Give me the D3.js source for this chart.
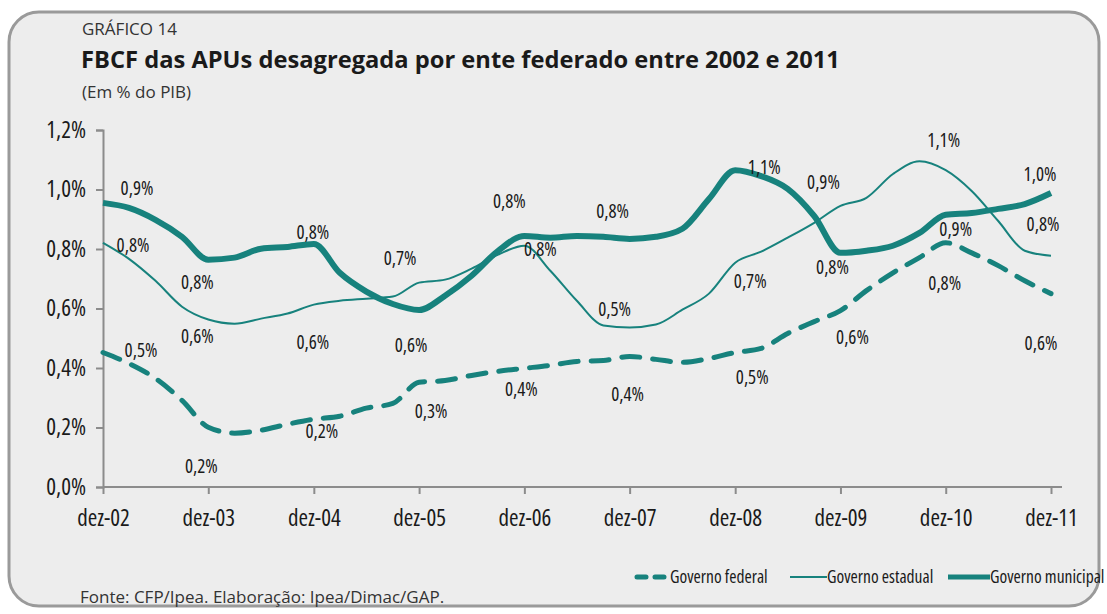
<!DOCTYPE html>
<html>
<head>
<meta charset="utf-8">
<script src="https://cdn.jsdelivr.net/npm/d3@7"></script>
<style>
  body { margin: 0; background: #fff; }
  svg text { font-family: "Open Sans", sans-serif; fill: #1a1a1a; }
  .tick text { font-size: 23px; font-stretch: 87.5%; }
  .val { font-size: 19px; font-stretch: 80%; }
  .leg { font-size: 17.5px; font-stretch: 85%; }
</style>
</head>
<body>
<div id="chart"></div>
<script>
// quarterly values, dez-02 .. dez-11 (% do PIB)
var federal = [0.452, 0.415, 0.365, 0.291, 0.201, 0.181, 0.191, 0.211, 0.228, 0.238, 0.265, 0.281,
    0.352, 0.358, 0.375, 0.389, 0.399, 0.409, 0.422, 0.425, 0.439, 0.429, 0.419, 0.432,
    0.452, 0.466, 0.516, 0.556, 0.593, 0.660, 0.720, 0.771, 0.821, 0.787, 0.744, 0.693, 0.650];
var estadual = [0.821, 0.767, 0.693, 0.606, 0.563, 0.549, 0.566, 0.583, 0.613, 0.626, 0.633, 0.640,
    0.687, 0.697, 0.734, 0.781, 0.811, 0.727, 0.626, 0.543, 0.536, 0.546, 0.596, 0.650,
    0.754, 0.791, 0.838, 0.888, 0.945, 0.972, 1.052, 1.095, 1.065, 0.995, 0.894, 0.794, 0.777];
var municipal = [0.955, 0.938, 0.898, 0.841, 0.764, 0.771, 0.801, 0.807, 0.817, 0.720, 0.657, 0.615,
    0.595, 0.643, 0.710, 0.794, 0.844, 0.838, 0.844, 0.841, 0.834, 0.841, 0.868, 0.968,
    1.065, 1.045, 1.002, 0.911, 0.787, 0.794, 0.811, 0.854, 0.915, 0.921, 0.935, 0.951, 0.988];

var years = [2002, 2003, 2004, 2005, 2006, 2007, 2008, 2009, 2010, 2011];
var yTicks = [0, 0.2, 0.4, 0.6, 0.8, 1.0, 1.2];
var seriesNames = ["Governo federal", "Governo estadual", "Governo municipal"];

// value labels shown each December
var federalLabels = ["0,5%", "0,2%", "0,2%", "0,3%", "0,4%", "0,4%", "0,5%", "0,6%", "0,8%", "0,6%"];
var estadualLabels = ["0,8%", "0,6%", "0,6%", "0,7%", "0,8%", "0,5%", "0,7%", "0,9%", "1,1%", "0,8%"];
var municipalLabels = ["0,9%", "0,8%", "0,8%", "0,6%", "0,8%", "0,8%", "1,1%", "0,8%", "0,9%", "1,0%"];

function init() {
    var w = 1107;
    var h = 614;
    var teal = "#17827d";

    var svg = d3.select("#chart")
        .append("svg")
        .attr("width", w)
        .attr("height", h);

    // frame
    svg.append("rect")
        .attr("x", 9).attr("y", 12)
        .attr("width", 1090).attr("height", 594)
        .attr("rx", 30)
        .style("fill", "#ededed")
        .style("stroke", "#9a9a9a")
        .style("stroke-width", 3);

    svg.append("text").attr("x", 82).attr("y", 35)
        .style("font-size", "17px").style("fill", "#333")
        .text("GRÁFICO 14");
    svg.append("text").attr("x", 81).attr("y", 68)
        .style("font-size", "23.7px").style("font-weight", "bold")
        .text("FBCF das APUs desagregada por ente federado entre 2002 e 2011");
    svg.append("text").attr("x", 82).attr("y", 98)
        .style("font-size", "17px").style("fill", "#333")
        .text("(Em % do PIB)");

    var quarter = function (i) { return new Date(2002, 11 + 3 * i, 1); };

    var xScale = d3.scaleTime()
        .domain([new Date(2002, 11, 1), new Date(2011, 11, 1)])
        .range([103, 1051]);

    var yScale = d3.scaleLinear()
        .domain([0, 1.2])
        .range([487, 130]);

    var ptBR = d3.formatLocale({ decimal: ",", thousands: ".", grouping: [3], currency: ["R$", ""] });
    var pct = ptBR.format(".1f");

    var xAxis = d3.axisBottom(xScale)
        .tickValues(years.map(function (y) { return new Date(y, 11, 1); }))
        .tickFormat(function (d) { return "dez-" + String(d.getFullYear()).slice(2); })
        .tickSize(7)
        .tickPadding(16);
    var gx = svg.append("g")
        .attr("transform", "translate(0,487)")
        .call(xAxis);
    gx.select(".domain").attr("d", "M103,0H1062");

    var yAxis = d3.axisLeft(yScale)
        .tickValues(yTicks)
        .tickFormat(function (d) { return pct(d) + "%"; })
        .tickSize(7)
        .tickPadding(10);
    svg.append("g")
        .attr("transform", "translate(103,0)")
        .call(yAxis);

    svg.selectAll(".domain, .tick line")
        .style("stroke", "#8c8c8c")
        .style("stroke-width", 2);

    var line = d3.line()
        .x(function (d, i) { return xScale(quarter(i)); })
        .y(function (d) { return yScale(d); })
        .curve(d3.curveMonotoneX);

    svg.append("path").datum(estadual)
        .attr("d", line)
        .style("fill", "none").style("stroke", teal).style("stroke-width", 2);

    svg.append("path").datum(municipal)
        .attr("d", line)
        .style("fill", "none").style("stroke", teal).style("stroke-width", 6)
        .style("stroke-linejoin", "round");

    svg.append("path").datum(federal)
        .attr("d", line)
        .style("fill", "none").style("stroke", teal).style("stroke-width", 5)
        .style("stroke-dasharray", "18,13")
        .style("stroke-linecap", "round");

    // label offsets (pixels from the December data point) per year
    var offF = [[38, -2], [-7, 40], [8, 13], [12, 30], [-3, 22], [-2, 39], [17, 25], [12, 27], [-1, 41], [-10, 50]];
    var offE = [[30, 3], [-11, 17], [-1, 38], [-19, -24], [16, 4], [-15, -18], [15, 19], [-17, -23], [-2, -29], [-8, -31]];
    var offM = [[34, -14], [-11, 23], [-1, -11], [-8, 36], [-15, -34], [-17, -27], [29, -2], [-8, 15], [10, 15], [-11, -18]];

    function drawLabels(values, texts, offs) {
        svg.append("g").selectAll("text")
            .data(texts)
            .enter().append("text")
            .attr("class", "val")
            .attr("x", function (d, i) { return xScale(quarter(i * 4)) + offs[i][0]; })
            .attr("y", function (d, i) { return yScale(values[i * 4]) + offs[i][1] + 6; })
            .attr("text-anchor", "middle")
            .text(function (d) { return d; });
    }
    drawLabels(federal, federalLabels, offF);
    drawLabels(estadual, estadualLabels, offE);
    drawLabels(municipal, municipalLabels, offM);

    // legend
    var legend = svg.append("g").attr("transform", "translate(0,577)");
    var items = [
        { x: 637, len: 32, sw: 5, dash: "9,9", tx: 670 },
        { x: 790, len: 37, sw: 2, dash: null, tx: 827 },
        { x: 948, len: 42, sw: 5, dash: null, tx: 990 }
    ];
    items.forEach(function (it, k) {
        legend.append("line")
            .attr("x1", it.x).attr("x2", it.x + it.len)
            .attr("y1", 0).attr("y2", 0)
            .style("stroke", teal).style("stroke-width", it.sw)
            .style("stroke-dasharray", it.dash)
            .style("stroke-linecap", it.dash ? "round" : "butt");
        legend.append("text")
            .attr("class", "leg")
            .attr("x", it.tx).attr("y", 6)
            .text(seriesNames[k]);
    });

    svg.append("text").attr("x", 80).attr("y", 603)
        .style("font-size", "17px").style("fill", "#333")
        .text("Fonte: CFP/Ipea. Elaboração: Ipea/Dimac/GAP.");
}

window.onload = init;
</script>
</body>
</html>
